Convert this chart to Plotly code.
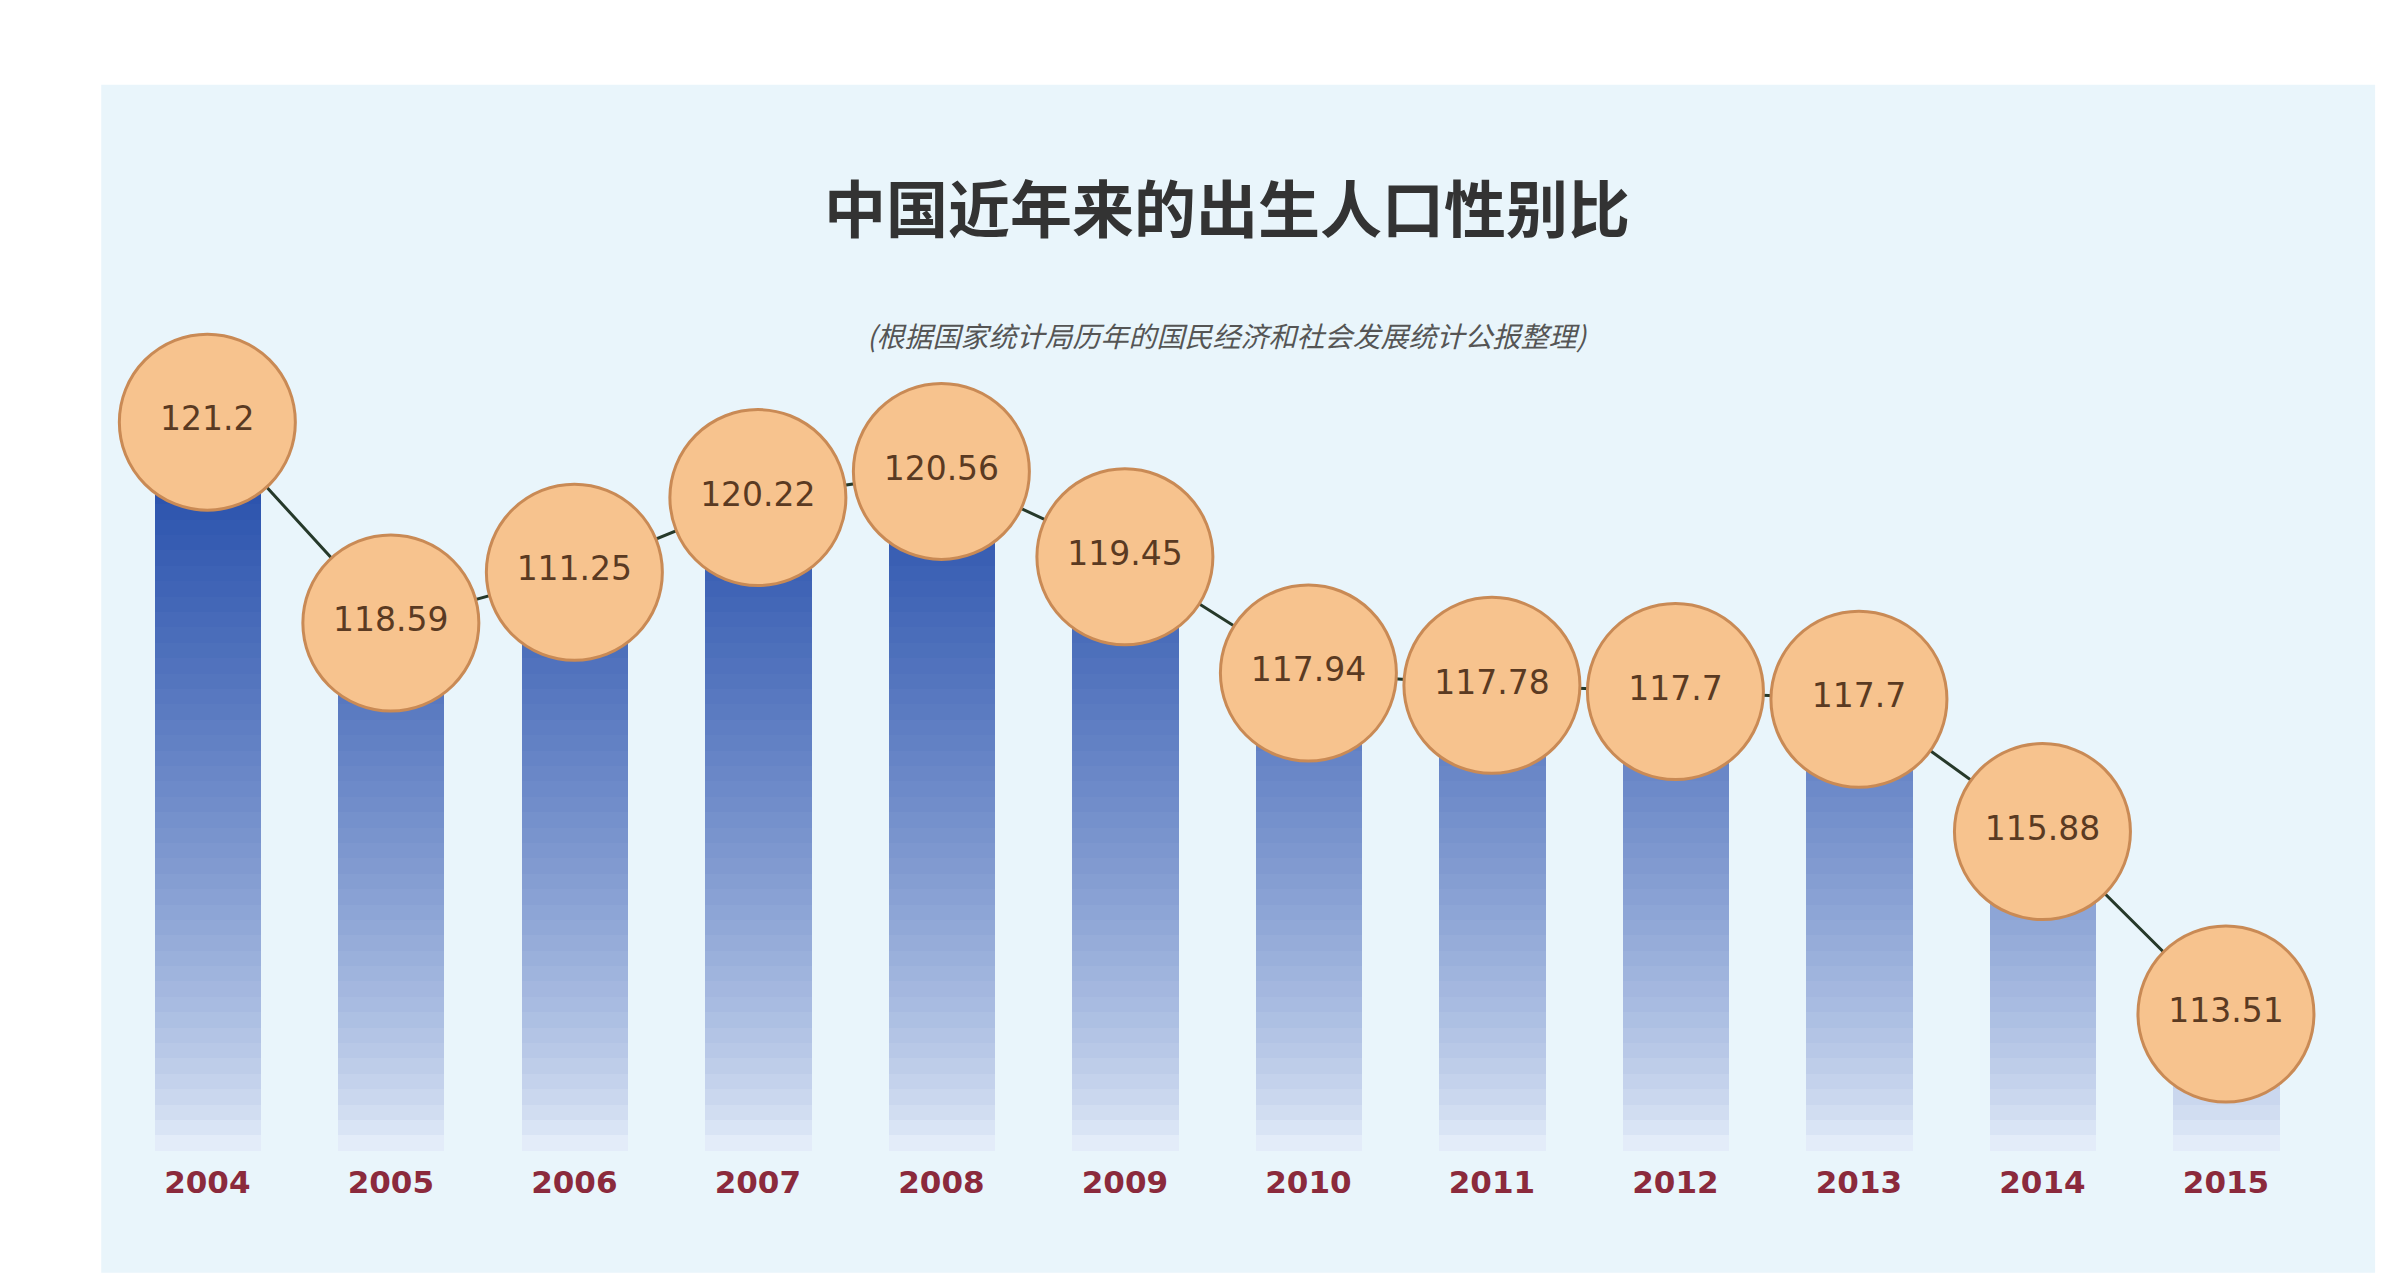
import plotly.graph_objects as go

years = ["2004", "2005", "2006", "2007", "2008", "2009",
         "2010", "2011", "2012", "2013", "2014", "2015"]
ratios = [121.2, 118.59, 119.25, 120.22, 120.56, 119.45,
          117.94, 117.78, 117.7, 117.6, 115.88, 113.51]
labels = ["121.2", "118.59", "111.25", "120.22", "120.56", "119.45",
          "117.94", "117.78", "117.7", "117.7", "115.88", "113.51"]

y_min, y_max = 111.73, 122.29


def band_color(y):
    # dark blue at the top, fading to near white at the bottom
    t = max(0.0, min(1.0, (y - y_min) / (121.2 - y_min)))
    top = (30, 72, 168)
    bottom = (235, 243, 252)
    c = [round(b + (a - b) * t ** 0.7) for a, b in zip(top, bottom)]
    return f"rgb({c[0]},{c[1]},{c[2]})"


fig = go.Figure()

# gradient bars built from horizontal bands
step = 0.2
lo = y_min
while lo < max(ratios):
    hi = lo + step
    heights = [max(0.0, min(v, hi) - lo) for v in ratios]
    fig.add_trace(go.Bar(
        x=years, y=heights, base=lo, width=0.58,
        marker=dict(color=band_color(lo + step / 2), line=dict(width=0)),
        hoverinfo="skip", showlegend=False,
    ))
    lo = hi

fig.add_trace(go.Scatter(
    x=years, y=ratios, mode="lines", cliponaxis=False,
    line=dict(color="#26392a", width=3), showlegend=False,
))
fig.add_trace(go.Scatter(
    x=years, y=ratios, mode="markers+text", text=labels, cliponaxis=False,
    textposition="middle center",
    textfont=dict(family="DejaVu Sans", size=33, color="#5a3a22"),
    marker=dict(size=176, color="#f7c38e",
                line=dict(color="#c98a55", width=3)),
    showlegend=False,
))

fig.add_shape(type="rect", xref="paper", yref="paper",
              x0=0.039, x1=0.99, y0=0.012, y1=0.94,
              fillcolor="#e9f5fb", line=dict(width=0), layer="below")

fig.add_annotation(text="<b>中国近年来的出生人口性别比</b>", xref="paper", yref="paper",
                   x=0.51, y=0.845, showarrow=False, yanchor="middle",
                   font=dict(family="Noto Sans CJK SC", size=62, color="#333333"))
fig.add_annotation(text="<i>(根据国家统计局历年的国民经济和社会发展统计公报整理)</i>",
                   xref="paper", yref="paper", x=0.51, y=0.762, showarrow=False,
                   font=dict(family="Noto Sans CJK SC", size=28, color="#555555"))

fig.update_layout(
    width=2391, height=1280,
    paper_bgcolor="white", plot_bgcolor="rgba(0,0,0,0)",
    margin=dict(l=0, r=0, t=0, b=0),
    barmode="overlay", bargap=0,
    xaxis=dict(domain=[0.045, 0.966], type="category", showgrid=False,
               range=[-0.5, 11.5],
               ticks="", tickfont=dict(family="DejaVu Sans", size=31,
                                       color="#8b2a3c", weight="bold"),
               ticklabelstandoff=10),
    yaxis=dict(domain=[0.107, 0.742], range=[y_min, y_max], visible=False),
)

fig.write_html("out.html")
